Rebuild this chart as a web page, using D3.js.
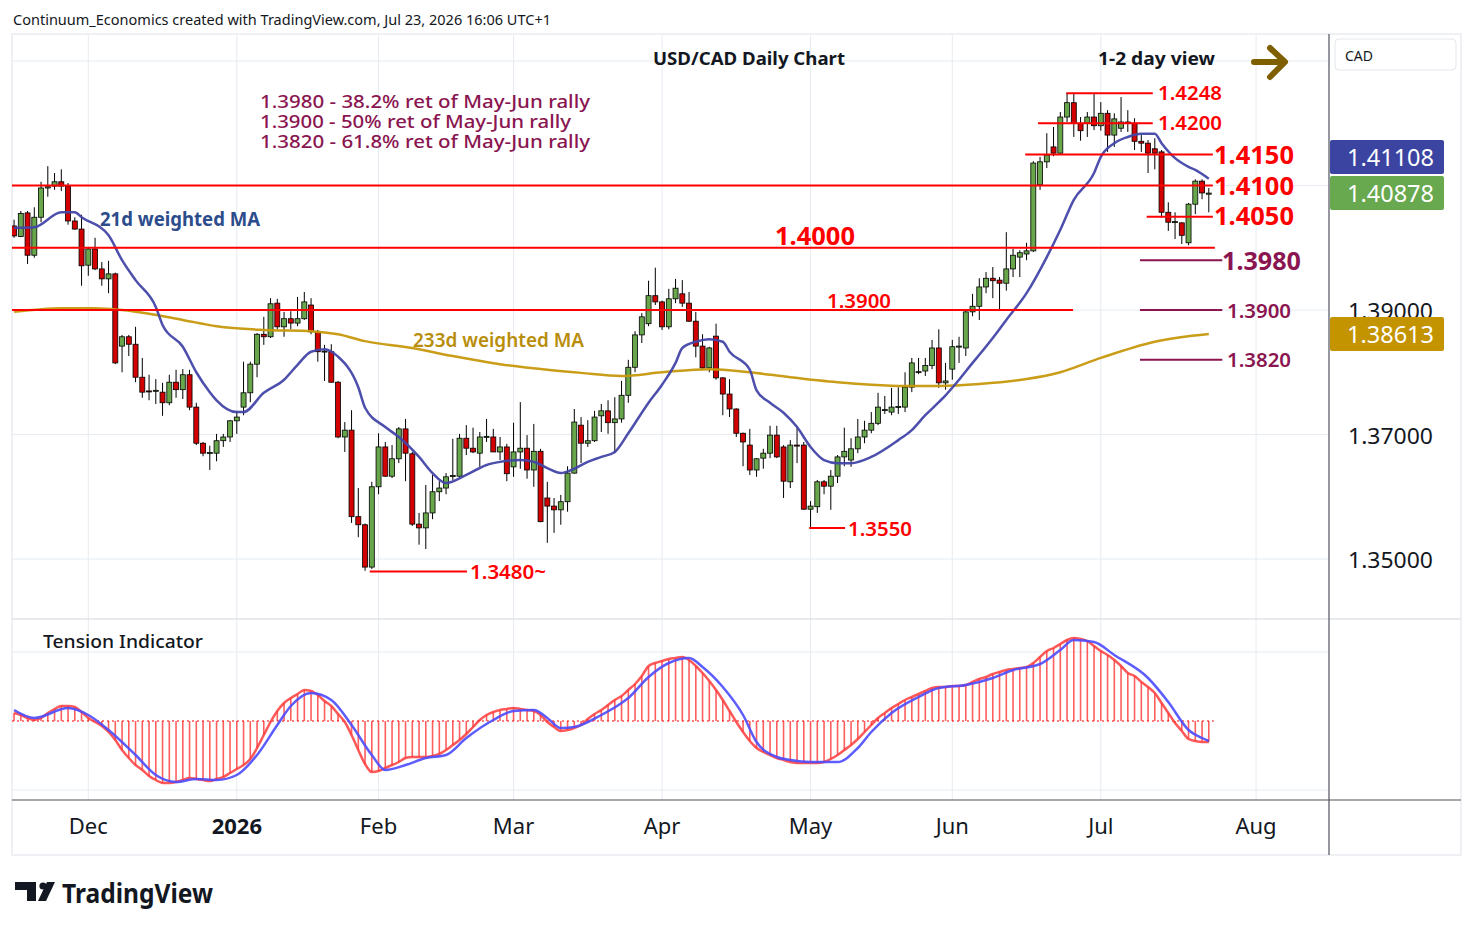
<!DOCTYPE html>
<html>
<head>
<meta charset="utf-8">
<script src="https://cdn.jsdelivr.net/npm/d3@7"></script>
<style>
  body { margin: 0; background: #fff; }
  svg { display: block; }
</style>
</head>
<body>
<svg id="chart" width="1474" height="930"></svg>
<script>
// USD/CAD daily, candles + 21d/233d weighted MA + tension indicator

// ---- data ----
var monthLabels = ['Dec', '2026', 'Feb', 'Mar', 'Apr', 'May', 'Jun', 'Jul', 'Aug'];
var monthIdx = [11, 33, 54, 74, 96, 118, 139, 161, 184];   // bar index of first trading day
var priceTicks = [1.35, 1.37, 1.39, 1.41, 1.43];

var opens = [1.4035,1.4018,1.4056,1.3988,1.4049,1.4096,1.4099,1.4106,1.4099,1.4043,
  1.4030,1.3972,1.3998,1.3966,1.3950,1.3958,1.3842,1.3857,1.3845,1.3792,
  1.3770,1.3770,1.3768,1.3751,1.3784,1.3772,1.3796,1.3744,1.3686,1.3670,
  1.3670,1.3690,1.3696,1.3722,1.3744,1.3767,1.3813,1.3861,1.3857,1.3911,
  1.3873,1.3886,1.3879,1.3886,1.3908,1.3865,1.3833,1.3833,1.3784,1.3696,
  1.3707,1.3568,1.3555,1.3487,1.3616,1.3680,1.3633,1.3661,1.3709,1.3669,
  1.3556,1.3550,1.3574,1.3608,1.3614,1.3633,1.3633,1.3694,1.3678,1.3670,
  1.3696,1.3696,1.3672,1.3680,1.3648,1.3672,1.3678,1.3643,1.3673,1.3598,
  1.3585,1.3579,1.3592,1.3638,1.3715,1.3686,1.3690,1.3730,1.3738,1.3719,
  1.3725,1.3763,1.3808,1.3860,1.3878,1.3923,1.3913,1.3873,1.3918,1.3926,
  1.3911,1.3882,1.3842,1.3807,1.3858,1.3791,1.3765,1.3741,1.3702,1.3683,
  1.3643,1.3662,1.3670,1.3699,1.3680,1.3624,1.3683,1.3683,1.3580,1.3584,
  1.3624,1.3617,1.3633,1.3664,1.3659,1.3677,1.3696,1.3707,1.3718,1.3739,
  1.3736,1.3744,1.3744,1.3776,1.3800,1.3802,1.3811,1.3839,1.3783,1.3805,
  1.3841,1.3839,1.3897,1.3906,1.3937,1.3951,1.3948,1.3943,1.3966,1.3985,
  1.3990,1.3995,1.4101,1.4138,1.4162,1.4152,1.4210,1.4233,1.4200,1.4200,
  1.4210,1.4196,1.4216,1.4181,1.4192,1.4202,1.4200,1.4171,1.4168,1.4159,
  1.4154,1.4057,1.4041,1.4040,1.4008,1.4070,1.4107,1.4086];
var highs = [1.4045,1.4059,1.4059,1.4065,1.4106,1.4131,1.4120,1.4126,1.4104,1.4049,
  1.4053,1.4001,1.4016,1.3977,1.3979,1.3960,1.3860,1.3860,1.3873,1.3823,
  1.3796,1.3789,1.3783,1.3796,1.3804,1.3805,1.3804,1.3751,1.3688,1.3682,
  1.3701,1.3701,1.3723,1.3738,1.3817,1.3817,1.3863,1.3889,1.3919,1.3918,
  1.3897,1.3898,1.3921,1.3929,1.3919,1.3868,1.3844,1.3845,1.3786,1.3720,
  1.3739,1.3614,1.3557,1.3624,1.3702,1.3688,1.3683,1.3712,1.3725,1.3672,
  1.3574,1.3619,1.3635,1.3625,1.3638,1.3693,1.3701,1.3715,1.3711,1.3704,
  1.3725,1.3709,1.3696,1.3685,1.3719,1.3752,1.3699,1.3717,1.3677,1.3624,
  1.3598,1.3603,1.3649,1.3741,1.3728,1.3723,1.3738,1.3749,1.3755,1.3760,
  1.3786,1.3820,1.3866,1.3895,1.3947,1.3968,1.3915,1.3934,1.3950,1.3948,
  1.3929,1.3897,1.3861,1.3841,1.3878,1.3792,1.3789,1.3742,1.3703,1.3709,
  1.3662,1.3677,1.3714,1.3714,1.3683,1.3691,1.3711,1.3688,1.3593,1.3627,
  1.3627,1.3643,1.3667,1.3711,1.3694,1.3725,1.3722,1.3736,1.3767,1.3762,
  1.3775,1.3776,1.3800,1.3823,1.3823,1.3823,1.3852,1.3869,1.3815,1.3852,
  1.3857,1.3900,1.3926,1.3951,1.3961,1.3969,1.3953,1.4025,1.3998,1.3996,
  1.4008,1.4139,1.4146,1.4184,1.4194,1.4218,1.4249,1.4249,1.4210,1.4218,
  1.4248,1.4234,1.4221,1.4216,1.4242,1.4221,1.4208,1.4181,1.4173,1.4176,
  1.4157,1.4073,1.4057,1.4041,1.4072,1.4110,1.4110,1.4096];
var lows = [1.4016,1.4017,1.3974,1.3984,1.4041,1.4082,1.4093,1.4091,1.4037,1.4029,
  1.3939,1.3955,1.3964,1.3939,1.3927,1.3813,1.3800,1.3826,1.3784,1.3759,
  1.3755,1.3749,1.3730,1.3747,1.3759,1.3757,1.3739,1.3683,1.3665,1.3643,
  1.3657,1.3680,1.3688,1.3701,1.3731,1.3752,1.3792,1.3844,1.3855,1.3869,
  1.3857,1.3869,1.3874,1.3884,1.3861,1.3817,1.3786,1.3783,1.3694,1.3672,
  1.3558,1.3535,1.3481,1.3484,1.3604,1.3632,1.3630,1.3654,1.3625,1.3553,
  1.3523,1.3516,1.3564,1.3593,1.3604,1.3627,1.3632,1.3667,1.3670,1.3648,
  1.3688,1.3672,1.3659,1.3625,1.3632,1.3645,1.3629,1.3616,1.3559,1.3526,
  1.3542,1.3555,1.3576,1.3637,1.3654,1.3680,1.3688,1.3704,1.3701,1.3670,
  1.3719,1.3751,1.3800,1.3847,1.3874,1.3908,1.3868,1.3869,1.3911,1.3905,
  1.3881,1.3824,1.3805,1.3800,1.3788,1.3731,1.3728,1.3696,1.3649,1.3635,
  1.3632,1.3645,1.3662,1.3662,1.3598,1.3614,1.3654,1.3579,1.3550,1.3574,
  1.3604,1.3579,1.3622,1.3649,1.3648,1.3670,1.3686,1.3702,1.3715,1.3733,
  1.3731,1.3733,1.3736,1.3768,1.3797,1.3794,1.3805,1.3775,1.3772,1.3788,
  1.3815,1.3826,1.3890,1.3884,1.3927,1.3919,1.3900,1.3931,1.3953,1.3953,
  1.3980,1.3993,1.4093,1.4128,1.4147,1.4151,1.4202,1.4178,1.4172,1.4178,
  1.4189,1.4188,1.4154,1.4162,1.4186,1.4186,1.4157,1.4154,1.4120,1.4126,
  1.4049,1.4027,1.4014,1.4006,1.4004,1.4054,1.4078,1.4057];
var closes = [1.4019,1.4055,1.3988,1.4049,1.4096,1.4098,1.4106,1.4099,1.4043,1.4030,
  1.3971,1.3998,1.3966,1.3950,1.3958,1.3815,1.3857,1.3845,1.3792,1.3768,
  1.3769,1.3771,1.3751,1.3784,1.3772,1.3796,1.3744,1.3686,1.3670,1.3671,
  1.3690,1.3696,1.3722,1.3728,1.3767,1.3813,1.3861,1.3857,1.3910,1.3873,
  1.3886,1.3879,1.3886,1.3913,1.3865,1.3833,1.3834,1.3784,1.3696,1.3707,
  1.3568,1.3555,1.3487,1.3616,1.3680,1.3633,1.3661,1.3709,1.3670,1.3556,
  1.3550,1.3574,1.3608,1.3614,1.3632,1.3634,1.3694,1.3678,1.3672,1.3696,
  1.3697,1.3672,1.3680,1.3637,1.3672,1.3678,1.3643,1.3673,1.3560,1.3585,
  1.3579,1.3592,1.3638,1.3720,1.3686,1.3690,1.3728,1.3738,1.3719,1.3725,
  1.3763,1.3808,1.3860,1.3889,1.3923,1.3913,1.3873,1.3918,1.3935,1.3911,
  1.3882,1.3842,1.3807,1.3839,1.3791,1.3765,1.3741,1.3702,1.3688,1.3643,
  1.3661,1.3670,1.3699,1.3664,1.3625,1.3683,1.3682,1.3580,1.3585,1.3624,
  1.3617,1.3633,1.3664,1.3673,1.3677,1.3696,1.3707,1.3718,1.3744,1.3740,
  1.3744,1.3745,1.3776,1.3815,1.3801,1.3811,1.3839,1.3783,1.3786,1.3841,
  1.3842,1.3897,1.3906,1.3937,1.3951,1.3947,1.3943,1.3966,1.3988,1.3992,
  1.3995,1.4136,1.4138,1.4149,1.4152,1.4210,1.4233,1.4200,1.4188,1.4210,
  1.4196,1.4216,1.4181,1.4207,1.4202,1.4200,1.4171,1.4168,1.4152,1.4152,
  1.4057,1.4041,1.4042,1.4020,1.4070,1.4107,1.4088,1.40878];

// 21d weighted MA, read at sample bars
var ma21Idx = [0,3,7,9,10,14,16,18,21,22,25,27,29,30,33,34,37,40,42,44,46,48,51,52,55,57,60,62,64,67,
  70,72,75,77,79,81,83,85,87,89,91,94,96,98,99,101,103,105,106,109,110,112,114,116,118,120,122,124,127,
  131,133,135,137,138,140,142,143,145,147,150,153,155,157,160,161,163,165,167,169,170,172,174,175,177];
var ma21Val = [1.4032,1.4033,1.4057,1.4057,1.4049,1.4020,1.3980,1.3948,1.3905,1.3876,1.3841,1.3800,1.3768,1.3755,
  1.3736,1.3736,1.3767,1.3788,1.3812,1.3833,1.3837,1.3825,1.3776,1.3743,1.3712,1.3696,1.3664,1.3638,1.3622,1.3635,
  1.3651,1.3656,1.3659,1.3656,1.3646,1.3638,1.3645,1.3656,1.3664,1.3672,1.3702,1.3751,1.3780,1.3815,1.3839,1.3849,
  1.3853,1.3849,1.3833,1.3804,1.3771,1.3751,1.3735,1.3712,1.3680,1.3659,1.3654,1.3654,1.3664,
  1.3691,1.3707,1.3731,1.3752,1.3763,1.3788,1.3815,1.3828,1.3855,1.3884,1.3927,1.3985,1.4029,1.4077,1.4120,
  1.4146,1.4168,1.4178,1.4183,1.4183,1.4168,1.4144,1.4130,1.4125,1.41108];

// 233d weighted MA
var ma233Idx = [0,7,12,16,20,25,30,37,44,48,52,59,65,72,79,84,90,96,103,109,115,122,127,132,137,143,150,155,161,169,177];
var ma233Val = [1.3897,1.3903,1.3903,1.3900,1.3894,1.3884,1.3874,1.3868,1.3866,1.3861,1.3850,1.3839,1.3826,1.3813,
  1.3804,1.3799,1.3794,1.3800,1.3805,1.3800,1.3792,1.3784,1.3780,1.3778,1.3778,1.3781,1.3789,1.3800,1.3823,1.3849,1.38613];

// tension indicator, one value per bar
var tension = [8,6,3,1,3,8,12,15,15,14,9,
  3,-1,-5,-11,-19,-29,-37,-44,-49,-55,
  -59,-62,-62,-61,-59,-57,-58,-59,-60,-58,
  -56,-52,-48,-44,-38,-27,-14,-1,10,18,
  23,27,31,30,26,20,15,7,-1,-14,
  -29,-43,-51,-50,-47,-44,-41,-37,-36,-36,
  -36,-35,-33,-29,-24,-19,-13,-6,1,6,
  9,11,12,13,12,11,10,6,-1,-6,
  -10,-9,-7,-4,2,7,11,16,21,25,
  31,37,45,55,58,60,62,63,64,61,
  55,48,40,31,21,10,-1,-11,-20,-27,
  -31,-34,-37,-39,-41,-42,-42,-42,-42,-41,
  -38,-34,-29,-24,-18,-11,-4,3,8,13,
  17,21,24,27,30,33,34,34,35,35,
  36,39,42,44,47,49,51,52,53,54,
  58,64,70,73,77,81,83,82,80,75,
  70,66,61,55,48,45,39,34,28,18,
  8,-2,-10,-18,-20,-21,-21];
// signal line, sample bars
var signalIdx = [0,3,8,11,14,18,21,24,27,30,33,36,39,41,44,47,50,53,55,58,61,64,67,71,74,77,79,81,83,87,90,91,94,97,
  100,102,105,108,110,113,115,118,122,125,127,130,134,137,141,145,148,152,155,157,160,163,168,171,174,176,177];
var signalVal = [11,3,13,6,-9,-34,-54,-61,-58,-59,-54,-34,-4,15,28,21,-4,-34,-49,-44,-37,-34,-17,1,10,11,3,-7,-6,6,18,23,44,58,
  63,54,34,6,-21,-36,-39,-41,-41,-27,-11,8,24,33,36,43,51,57,71,81,79,66,43,19,-9,-17,-20];

// ---- layout ----
var FONT = '"Noto Sans", "DejaVu Sans", sans-serif';
var RED = '#ff0000', PURPLE = '#8a1550', TXT = '#131722', GRID = '#e6ecf2';
var UP = '#68a64c', DOWN = '#d20000';
var BLUE_MA = '#4346a8', GOLD_MA = '#c7980c';

var svg = d3.select('#chart').style('font-family', FONT);

var xS = d3.scaleLinear().domain([0, 177]).range([14.05, 1208.8]);
var yS = d3.scaleLinear().domain([1.35, 1.43]).range([559, 61]);
var yT = d3.scaleLinear().domain([-69, 69]).range([790, 652]);

var paneL = 12, paneR = 1329, mainT = 35, mainB = 618, lowT = 620, lowB = 800;

function txt(g, x, y, s, o) {
  o = o || {};
  var t = g.append('text').attr('x', x).attr('y', y).text(s)
    .attr('dominant-baseline', 'central')
    .attr('font-size', o.size || 14)
    .attr('font-weight', o.weight || 'normal')
    .attr('fill', o.color || TXT)
    .attr('text-anchor', o.anchor || 'start');
  if (o.len) t.attr('textLength', o.len).attr('lengthAdjust', 'spacingAndGlyphs');
  return t;
}

// header
txt(svg, 13, 19, 'Continuum_Economics created with TradingView.com, Jul 23, 2026 16:06 UTC+1', {size: 14, len: 538});

// frame
svg.append('rect').attr('x', 12).attr('y', 34).attr('width', 1449).attr('height', 821)
  .attr('fill', '#fff').attr('stroke', '#eef0f3').attr('stroke-width', 2);

var defs = svg.append('defs');
defs.append('clipPath').attr('id', 'clipMain').append('rect')
  .attr('x', paneL).attr('y', mainT).attr('width', paneR - paneL).attr('height', mainB - mainT);
defs.append('clipPath').attr('id', 'clipLow').append('rect')
  .attr('x', paneL).attr('y', lowT).attr('width', paneR - paneL).attr('height', lowB - lowT);

// grid
var grid = svg.append('g');
monthIdx.forEach(function(i) {
  var x = xS(i);
  if (x < paneR) grid.append('line').attr('x1', x).attr('x2', x).attr('y1', mainT).attr('y2', lowB)
    .attr('stroke', GRID).attr('stroke-width', 1);
});
priceTicks.forEach(function(p) {
  grid.append('line').attr('x1', paneL).attr('x2', paneR).attr('y1', yS(p)).attr('y2', yS(p))
    .attr('stroke', GRID).attr('stroke-width', 1);
});
[-69, 69].forEach(function(v) {
  grid.append('line').attr('x1', paneL).attr('x2', paneR).attr('y1', yT(v)).attr('y2', yT(v))
    .attr('stroke', GRID).attr('stroke-width', 1);
});
svg.append('line').attr('x1', paneL).attr('x2', 1461).attr('y1', 619).attr('y2', 619)
  .attr('stroke', '#e0e3eb').attr('stroke-width', 1.5);

// ---- main pane ----
var main = svg.append('g').attr('clip-path', 'url(#clipMain)');

var candles = main.append('g');
closes.forEach(function(c, i) {
  var o = opens[i], x = xS(i);
  var col = c >= o ? UP : DOWN;
  candles.append('line').attr('x1', x).attr('x2', x)
    .attr('y1', yS(highs[i])).attr('y2', yS(lows[i]))
    .attr('stroke', '#000').attr('stroke-width', 1);
  var yTop = yS(Math.max(o, c)), h = Math.max(1, Math.abs(yS(o) - yS(c)));
  candles.append('rect').attr('x', x - 2.5).attr('y', yTop).attr('width', 5).attr('height', h)
    .attr('fill', col).attr('stroke', '#000').attr('stroke-width', 0.8);
});

var lineMA = d3.line().x(function(d) { return xS(d[0]); }).y(function(d) { return yS(d[1]); })
  .curve(d3.curveMonotoneX);
main.append('path').datum(d3.zip(ma233Idx, ma233Val)).attr('d', lineMA)
  .attr('fill', 'none').attr('stroke', GOLD_MA).attr('stroke-width', 2.5).attr('opacity', 0.95);
main.append('path').datum(d3.zip(ma21Idx, ma21Val)).attr('d', lineMA)
  .attr('fill', 'none').attr('stroke', BLUE_MA).attr('stroke-width', 2.5).attr('opacity', 0.95);

// support / resistance lines
var levels = [
  {v: 1.4100, a: -2, b: 177.6, c: RED},
  {v: 1.4000, a: -2, b: 177.9, c: RED},
  {v: 1.3900, a: -2, b: 156.9, c: RED},
  {v: 1.4248, a: 155.9, b: 168.7, c: RED},
  {v: 1.4200, a: 151.7, b: 168.7, c: RED},
  {v: 1.4150, a: 149.8, b: 177.6, c: RED},
  {v: 1.4050, a: 167.8, b: 177.6, c: RED},
  {v: 1.3550, a: 117.8, b: 123.1, c: RED},
  {v: 1.3480, a: 52.7, b: 67.1, c: RED},
  {v: 1.3980, a: 166.8, b: 179, c: PURPLE},
  {v: 1.3900, a: 166.8, b: 179, c: PURPLE},
  {v: 1.3820, a: 166.8, b: 179, c: PURPLE}
];
levels.forEach(function(l) {
  main.append('line').attr('x1', xS(l.a)).attr('x2', xS(l.b)).attr('y1', yS(l.v)).attr('y2', yS(l.v))
    .attr('stroke', l.c).attr('stroke-width', 2);
});

// level labels
var big = {size: 25, weight: 'bold', color: RED, len: 80};
var small = {size: 20, weight: 600, color: RED, len: 64};
txt(svg, 1214, yS(1.4150), '1.4150', big);
txt(svg, 1214, yS(1.4100) - 1, '1.4100', big);
txt(svg, 1214, yS(1.4050) - 2, '1.4050', big);
txt(svg, 775, 235, '1.4000', big);
txt(svg, 1158, yS(1.4248) - 1, '1.4248', small);
txt(svg, 1158, yS(1.4200) - 1, '1.4200', small);
txt(svg, 827, 300, '1.3900', small);
txt(svg, 848, yS(1.3550) + 1, '1.3550', small);
txt(svg, 470, yS(1.3480), '1.3480~', {size: 20, weight: 600, color: RED, len: 76});
txt(svg, 1222, yS(1.3980), '1.3980', {size: 25, weight: 'bold', color: PURPLE, len: 79});
txt(svg, 1227, yS(1.3900), '1.3900', {size: 20, weight: 600, color: PURPLE, len: 64});
txt(svg, 1227, yS(1.3820), '1.3820', {size: 20, weight: 600, color: PURPLE, len: 64});

// titles and notes
txt(svg, 653, 58, 'USD/CAD Daily Chart', {size: 18, weight: 'bold', len: 192});
txt(svg, 1098, 58, '1-2 day view', {size: 18, weight: 'bold', len: 117});
svg.append('path').attr('d', 'M1254,62 H1284 M1270,48 L1285,62 L1270,77')
  .attr('fill', 'none').attr('stroke', '#7f6000').attr('stroke-width', 6)
  .attr('stroke-linecap', 'round').attr('stroke-linejoin', 'round');

var notes = ['1.3980 - 38.2% ret of May-Jun rally', '1.3900 - 50% ret of May-Jun rally', '1.3820 - 61.8% ret of May-Jun rally'];
var noteLen = [330, 311, 330];
notes.forEach(function(n, i) {
  txt(svg, 260, 101 + i * 20, n, {size: 18, weight: 500, color: PURPLE, len: noteLen[i]});
});
txt(svg, 100, 218, '21d weighted MA', {size: 20, weight: 'bold', color: '#2c4c8c', len: 160});
txt(svg, 413, 340, '233d weighted MA', {size: 19, weight: 600, color: '#b88d0a', len: 171});

// ---- tension pane ----
var low = svg.append('g').attr('clip-path', 'url(#clipLow)');
tension.forEach(function(v, i) {
  low.append('line').attr('x1', xS(i)).attr('x2', xS(i)).attr('y1', yT(0)).attr('y2', yT(v))
    .attr('stroke', '#ff4d4d').attr('stroke-width', 1.6).attr('opacity', 0.9);
});
low.append('line').attr('x1', paneL).attr('x2', xS(177) + 5).attr('y1', yT(0)).attr('y2', yT(0))
  .attr('stroke', RED).attr('stroke-width', 1.2).attr('stroke-dasharray', '2,3');
low.append('path').datum(tension)
  .attr('d', d3.line().x(function(d, i) { return xS(i); }).y(function(d) { return yT(d); }).curve(d3.curveMonotoneX))
  .attr('fill', 'none').attr('stroke', '#ff3b3b').attr('stroke-width', 2.5).attr('opacity', 0.85);
low.append('path').datum(d3.zip(signalIdx, signalVal))
  .attr('d', d3.line().x(function(d) { return xS(d[0]); }).y(function(d) { return yT(d[1]); }).curve(d3.curveMonotoneX))
  .attr('fill', 'none').attr('stroke', '#4b4bff').attr('stroke-width', 2.5).attr('opacity', 0.9);
txt(svg, 43, 641, 'Tension Indicator', {size: 18, weight: 500, len: 160});

// ---- axes ----
svg.append('line').attr('x1', paneL).attr('x2', 1461).attr('y1', lowB).attr('y2', lowB)
  .attr('stroke', '#50535e').attr('stroke-width', 1.2);
svg.append('line').attr('x1', paneR).attr('x2', paneR).attr('y1', 34).attr('y2', 855)
  .attr('stroke', '#50535e').attr('stroke-width', 1.2);

monthLabels.forEach(function(m, i) {
  txt(svg, xS(monthIdx[i]), 825, m, {size: 22, anchor: 'middle', weight: m === '2026' ? 'bold' : 'normal'});
});

// last value tags (stacked so they don't overlap)
var fmt = d3.format('.5f');
var lastClose = closes[closes.length - 1];
var lastMA21 = ma21Val[ma21Val.length - 1];
var lastMA233 = ma233Val[ma233Val.length - 1];
var tagH = 34;
var closeY = yS(lastClose);
var ma21Y = Math.min(yS(lastMA21), closeY - tagH - 2);
var tags = [
  {y: ma21Y, v: lastMA21, c: '#3b44a0'},
  {y: closeY, v: lastClose, c: '#68a84f'},
  {y: yS(lastMA233), v: lastMA233, c: '#c49300'}
];
var cadBox = {y0: 39, y1: 70};

// price labels, skipped where a tag or the currency box sits on top
priceTicks.forEach(function(p) {
  var y = yS(p);
  var hidden = (y > cadBox.y0 - 6 && y < cadBox.y1 + 6) ||
    tags.some(function(t) { return Math.abs(t.y - y) < 14; });
  if (!hidden) txt(svg, 1348, y, fmt(p), {size: 22, len: 85});
});

svg.append('rect').attr('x', 1335).attr('y', cadBox.y0).attr('width', 121).attr('height', cadBox.y1 - cadBox.y0).attr('rx', 4)
  .attr('fill', '#fff').attr('stroke', '#e3e6ec');
txt(svg, 1345, 55, 'CAD', {size: 14});

tags.forEach(function(t) {
  svg.append('rect').attr('x', 1330).attr('y', t.y - tagH / 2).attr('width', 114).attr('height', tagH)
    .attr('rx', 2).attr('fill', t.c);
  txt(svg, 1347, t.y, fmt(t.v), {size: 23, color: '#fff', len: 87});
});

// TradingView logo
var logo = svg.append('g').attr('fill', TXT);
logo.append('path').attr('d', 'M15,882 H36 V901 H27 V890 H15 Z');
logo.append('circle').attr('cx', 43).attr('cy', 886).attr('r', 3.6);
logo.append('path').attr('d', 'M47,882 H55 L46,901 H38 Z');
txt(svg, 62, 892, 'TradingView', {size: 27, weight: 'bold', len: 151});
</script>
</body>
</html>
